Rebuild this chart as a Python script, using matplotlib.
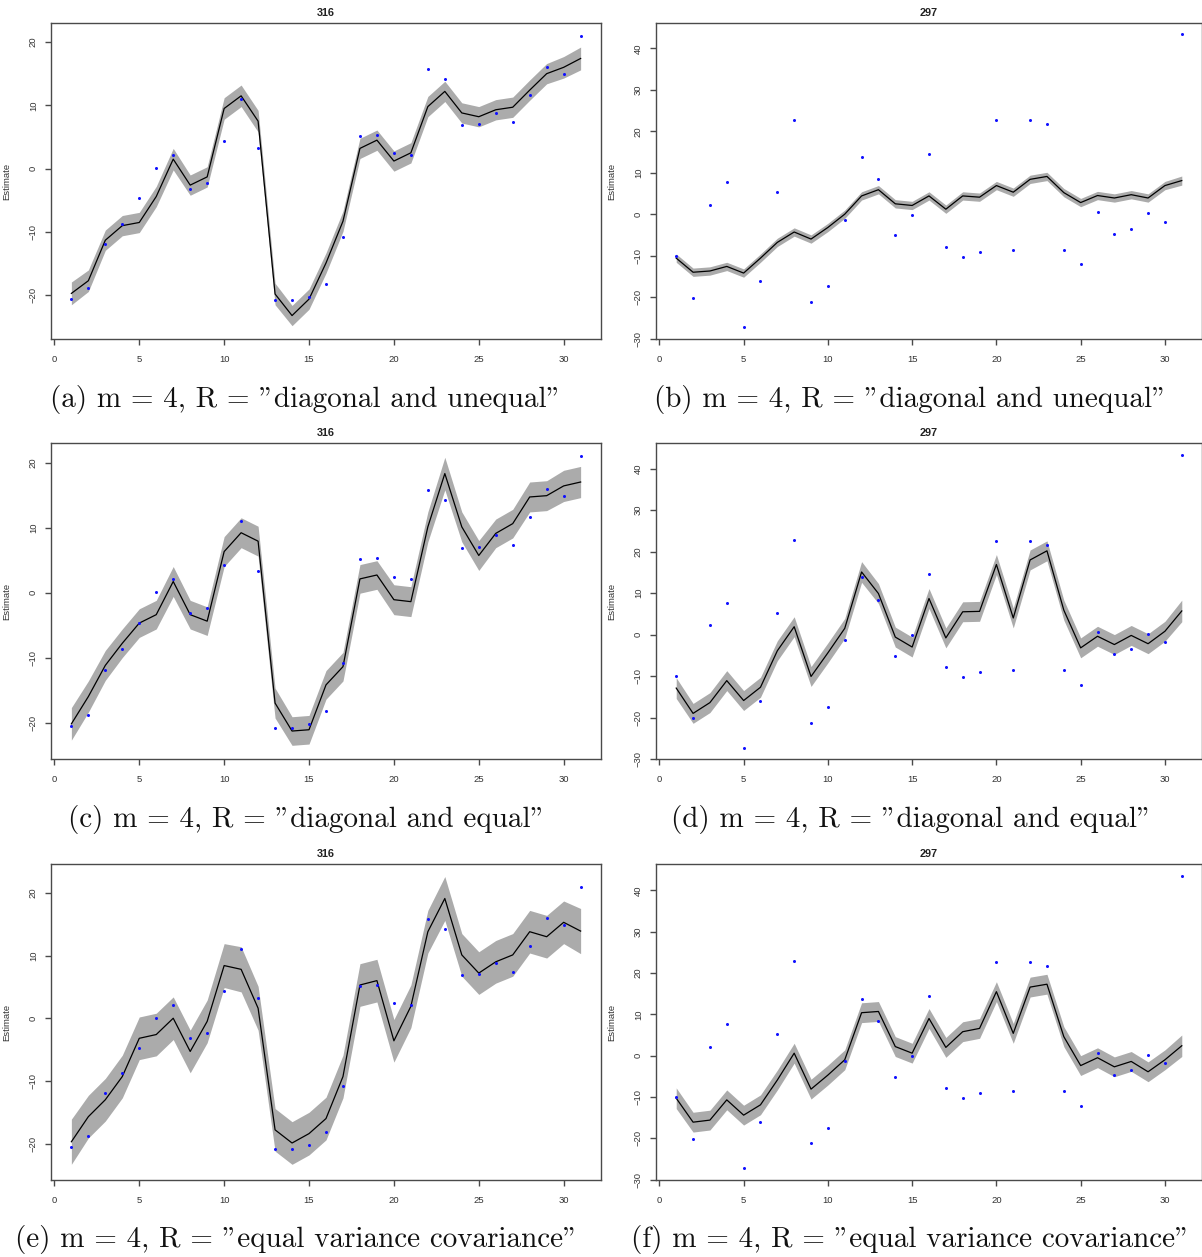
import matplotlib
matplotlib.use("Agg")
import matplotlib.pyplot as plt

# ---------------- data ----------------
t = list(range(1, 32))

obs_316 = [-20.6, -18.8, -11.9, -8.7, -4.7, 0.1, 2.1, -3.2, -2.3, 4.3, 11.0, 3.3,
           -20.8, -20.8, -20.2, -18.2, -10.8, 5.1, 5.3, 2.4, 2.1, 15.8, 14.2, 6.9,
           7.0, 8.8, 7.3, 11.6, 16.0, 14.9, 21.0]
obs_297 = [-10.1, -20.2, 2.2, 7.7, -27.3, -16.0, 5.3, 22.8, -21.2, -17.4, -1.4, 13.8,
           8.4, -5.1, -0.2, 14.5, -7.9, -10.3, -9.1, 22.6, -8.6, 22.6, 21.7, -8.6,
           -12.1, 0.6, -4.7, -3.5, 0.2, -1.8, 43.4]

est_a = [-19.7, -17.7, -11.3, -9.0, -8.5, -4.4, 1.5, -2.6, -1.3, 9.5, 11.5, 7.5,
         -19.8, -23.2, -20.6, -14.9, -8.3, 3.2, 4.5, 1.2, 2.5, 9.8, 12.2, 8.8,
         8.2, 9.3, 9.7, 12.4, 15.0, 16.0, 17.4]
se_a = [1.8, 1.7, 1.6, 1.6, 1.6, 1.6, 1.7, 1.6, 1.6, 1.7, 1.7, 1.7,
        1.7, 1.6, 1.6, 1.6, 1.6, 1.6, 1.6, 1.6, 1.6, 1.6, 1.6, 1.6,
        1.6, 1.6, 1.6, 1.6, 1.6, 1.7, 1.8]

est_b = [-10.6, -14.0, -13.7, -12.6, -14.2, -10.6, -6.8, -4.3, -6.0, -3.2, 0.0, 4.4,
         5.9, 2.5, 2.1, 4.4, 1.2, 4.4, 4.1, 6.9, 5.3, 8.4, 9.1, 5.2,
         2.8, 4.5, 3.9, 4.7, 3.9, 6.9, 8.1]
se_b = [1.0, 1.0, 1.0, 1.0, 1.0, 1.0, 1.0, 1.0, 1.0, 1.0, 1.0, 1.0,
        1.0, 1.0, 1.0, 1.0, 1.0, 1.0, 1.0, 1.0, 1.0, 1.0, 1.0, 1.0,
        1.0, 1.0, 1.0, 1.0, 1.0, 1.0, 1.1]

est_c = [-20.2, -16.0, -11.2, -7.8, -4.7, -3.4, 1.7, -3.4, -4.4, 6.3, 9.2, 7.9,
         -17.0, -21.3, -21.1, -14.2, -11.4, 2.1, 2.7, -1.1, -1.4, 10.1, 18.3, 10.1,
         5.7, 9.1, 10.6, 14.7, 14.9, 16.4, 17.0]
se_c = [2.5, 2.4, 2.3, 2.2, 2.2, 2.2, 2.3, 2.2, 2.2, 2.3, 2.3, 2.3,
        2.3, 2.2, 2.2, 2.2, 2.2, 2.2, 2.2, 2.3, 2.3, 2.3, 2.5, 2.3,
        2.3, 2.2, 2.2, 2.3, 2.3, 2.4, 2.4]

est_d = [-12.9, -19.0, -16.4, -11.1, -15.9, -12.7, -3.9, 1.9, -10.1, -4.4, 1.5, 15.1,
         9.9, -0.6, -3.0, 8.7, -0.8, 5.5, 5.6, 16.9, 4.0, 18.0, 20.2, 5.9,
         -3.2, -0.4, -2.4, -0.2, -2.2, 0.8, 5.7]
se_d = [2.5, 2.4, 2.4, 2.4, 2.4, 2.4, 2.4, 2.4, 2.4, 2.4, 2.4, 2.5,
        2.4, 2.4, 2.4, 2.4, 2.4, 2.4, 2.4, 2.4, 2.4, 2.4, 2.4, 2.4,
        2.4, 2.4, 2.4, 2.4, 2.4, 2.4, 2.6]

est_e = [-19.7, -15.7, -13.0, -9.3, -3.2, -2.6, 0.0, -5.3, -0.5, 8.4, 7.8, 1.6,
         -17.8, -19.9, -18.4, -16.0, -9.3, 5.3, 6.0, -3.6, 1.9, 13.8, 19.1, 10.1,
         7.2, 9.0, 10.1, 13.8, 13.0, 15.3, 13.9]
se_e = [3.6, 3.4, 3.4, 3.4, 3.4, 3.4, 3.4, 3.4, 3.4, 3.5, 3.6, 3.5,
        3.4, 3.4, 3.4, 3.4, 3.4, 3.4, 3.4, 3.4, 3.4, 3.4, 3.5, 3.4,
        3.4, 3.4, 3.4, 3.4, 3.4, 3.4, 3.6]

est_f = [-10.3, -16.1, -15.6, -10.7, -14.4, -11.9, -5.9, 0.6, -8.1, -4.7, -1.0, 10.4,
         10.7, 2.2, 0.6, 9.0, 2.0, 5.8, 6.6, 15.5, 5.4, 16.6, 17.3, 4.6,
         -2.4, -0.5, -2.7, -1.4, -3.9, -1.0, 2.4]
se_f = [2.5, 2.4, 2.4, 2.4, 2.4, 2.4, 2.4, 2.4, 2.4, 2.4, 2.4, 2.4,
        2.4, 2.4, 2.4, 2.4, 2.4, 2.4, 2.4, 2.4, 2.4, 2.4, 2.4, 2.4,
        2.4, 2.4, 2.4, 2.4, 2.4, 2.4, 2.6]

titles = ["316", "297", "316", "297", "316", "297"]
captions = ['(a) m = 4, R = "diagonal and unequal"',
            '(b) m = 4, R = "diagonal and unequal"',
            '(c) m = 4, R = "diagonal and equal"',
            '(d) m = 4, R = "diagonal and equal"',
            '(e) m = 4, R = "equal variance covariance"',
            '(f) m = 4, R = "equal variance covariance"']
xticks = [0, 5, 10, 15, 20, 25, 30]
yticks_316 = [-20, -10, 0, 10, 20]
yticks_297 = [-30, -20, -10, 0, 10, 20, 30, 40]

# ---------------- layout ----------------
W, H = 1202, 1257
fig = plt.figure(figsize=(W / 100, H / 100), dpi=100)

cols = [(51, 601), (656, 1202)]
rows = [(23, 339), (443, 759), (864, 1180)]
ylims = [(-26.9, 23.0), (-30.1, 46.1),
         (-25.6, 23.0), (-30.0, 46.2),
         (-25.8, 24.6), (-30.1, 46.4)]
cap_x = [306, 910, 307, 911, 296, 910]
cap_y = [399, 399, 819, 819, 1239, 1239]

panels = [(obs_316, est_a, se_a), (obs_297, est_b, se_b),
          (obs_316, est_c, se_c), (obs_297, est_d, se_d),
          (obs_316, est_e, se_e), (obs_297, est_f, se_f)]

axc = "#4a4a4a"
tick_font = "Liberation Sans"

for i, (obs, est, se) in enumerate(panels):
    r, c = divmod(i, 2)
    x0, x1 = cols[c]
    y0, y1 = rows[r]
    ax = fig.add_axes([x0 / W, 1 - y1 / H, (x1 - x0) / W, (y1 - y0) / H])
    lo = [e - s for e, s in zip(est, se)]
    hi = [e + s for e, s in zip(est, se)]
    ax.fill_between(t, lo, hi, color="#ababab", linewidth=0, zorder=1)
    ax.plot(t, est, color="black", linewidth=0.9, zorder=2)
    ax.plot(t, obs, linestyle="none", marker="o", markersize=2.2,
            color="#1010ff", markeredgewidth=0, zorder=3)
    ax.set_xlim(-0.2, 32.2)
    ax.set_ylim(*ylims[i])
    ax.set_xticks(xticks)
    ax.set_yticks(yticks_316 if c == 0 else yticks_297)
    for sp in ax.spines.values():
        sp.set_color(axc)
        sp.set_linewidth(1.0)
    ax.tick_params(axis="both", direction="out", length=4.5, width=1.0,
                   color=axc, labelsize=6.8, labelcolor="#333333")
    ax.tick_params(axis="x", pad=7)
    ax.tick_params(axis="y", pad=5)
    for lab in ax.get_xticklabels():
        lab.set_fontfamily(tick_font)
    for lab in ax.get_yticklabels():
        lab.set_fontfamily(tick_font)
        lab.set_rotation(90)
        lab.set_va("center")
    ax.set_ylabel("Estimate", fontsize=6.8, family=tick_font, color="#333333")
    ax.yaxis.set_label_coords(-0.072, 0.5)
    ax.set_title(titles[i], fontsize=7.8, fontweight="bold", family=tick_font,
                 pad=5, color="#222222")
    fig.text(cap_x[i] / W, 1 - cap_y[i] / H, captions[i],
             family=["cmr10", "DejaVu Serif"], fontsize=21,
             ha="center", va="center", color="#111111")

fig.savefig("out.png", dpi=100)
